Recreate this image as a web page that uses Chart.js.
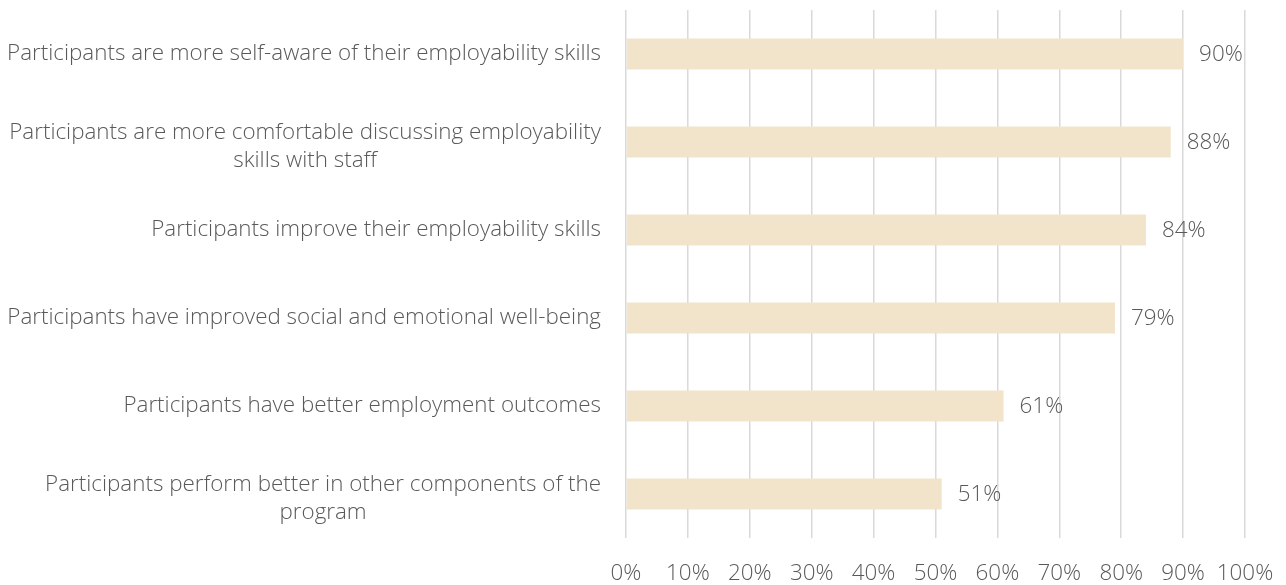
<!DOCTYPE html>
<html>
<head>
<meta charset="utf-8">
<script src="https://cdn.jsdelivr.net/npm/chart.js@4/dist/chart.umd.min.js"></script>
<style>
  html, body { margin: 0; padding: 0; background: #fff; }
  #wrap { width: 1286px; height: 585px; position: relative; }
</style>
</head>
<body>
<div id="wrap"><canvas id="chart"></canvas></div>
<script>
// statements, top to bottom
const categories = [
    ['Participants are more self-aware of their employability skills'],
    ['Participants are more comfortable discussing employability', 'skills with staff'],
    ['Participants improve their employability skills'],
    ['Participants have improved social and emotional well-being'],
    ['Participants have better employment outcomes'],
    ['Participants perform better in other components of the', 'program']
];
const shares = [90, 88, 84, 79, 61, 51]; // percent of respondents
const tickSteps = [0, 10, 20, 30, 40, 50, 60, 70, 80, 90, 100];

const textColor = '#595959';
const fontFamily = '"Open Sans", "Segoe UI", sans-serif';
const fontSize = 22.4;
const fontWeight = 300;

// category labels: each wrapped label is centred on its own widest line,
// and the block is right-aligned against the axis
const categoryLabels = {
    id: 'categoryLabels',
    afterDraw(chart) {
        const ctx = chart.ctx;
        const yScale = chart.scales.y;
        const lineHeight = 28;
        ctx.save();
        ctx.font = `${fontWeight} ${fontSize}px ${fontFamily}`;
        ctx.fillStyle = textColor;
        ctx.textAlign = 'center';
        ctx.textBaseline = 'middle';
        chart.data.labels.forEach((lines, i) => {
            const widest = Math.max(...lines.map(l => ctx.measureText(l).width));
            const cx = yScale.right - 25 - widest / 2;
            const cy = yScale.getPixelForValue(i);
            const top = cy - (lines.length - 1) * lineHeight / 2 + (lines.length > 1 ? 5 : 0);
            lines.forEach((l, j) => ctx.fillText(l, cx, top + j * lineHeight));
        });
        ctx.restore();
    }
};

// value labels just past the end of each bar
const valueLabels = {
    id: 'valueLabels',
    afterDatasetsDraw(chart) {
        const ctx = chart.ctx;
        const meta = chart.getDatasetMeta(0);
        ctx.save();
        ctx.font = `${fontWeight} ${fontSize}px ${fontFamily}`;
        ctx.fillStyle = textColor;
        ctx.textAlign = 'left';
        ctx.textBaseline = 'middle';
        meta.data.forEach((bar, i) => {
            ctx.fillText(shares[i] + '%', bar.x + 16, bar.y + 1);
        });
        ctx.restore();
    }
};

function initChart() {
    const ctx = document.getElementById('chart').getContext('2d');

    const data = {
        labels: categories,
        datasets: [{
            data: shares,
            backgroundColor: '#F2E4CA',
            borderWidth: 0,
            barPercentage: 0.35,
            categoryPercentage: 1
        }]
    };

    const config = {
        type: 'bar',
        data: data,
        options: {
            indexAxis: 'y',
            responsive: true,
            maintainAspectRatio: false,
            animation: false,
            layout: {
                padding: { top: 10, right: 41, left: 0, bottom: 0 }
            },
            plugins: {
                legend: { display: false },
                tooltip: { enabled: false },
                title: { display: false }
            },
            scales: {
                x: {
                    min: 0,
                    max: 100,
                    afterBuildTicks: (scale) => {
                        scale.ticks = tickSteps.map(v => ({ value: v }));
                    },
                    ticks: {
                        callback: (v) => v + '%',
                        color: textColor,
                        padding: 22,
                        maxRotation: 0,
                        font: { family: fontFamily, size: fontSize, weight: fontWeight }
                    },
                    grid: {
                        color: '#D9D9D9',
                        lineWidth: 1.5,
                        drawTicks: false
                    },
                    border: { display: false },
                    afterFit: (scale) => {
                        scale.height = 47;
                        // the end labels may hang past the plot; don't shrink it for them
                        scale.paddingLeft = 0;
                        scale.paddingRight = 0;
                    }
                },
                y: {
                    ticks: { display: false },
                    grid: { display: false },
                    border: { display: false },
                    afterFit: (scale) => { scale.width = 626; }
                }
            }
        },
        plugins: [categoryLabels, valueLabels]
    };

    new Chart(ctx, config);
}

document.addEventListener('DOMContentLoaded', function() {
    initChart();
});
</script>
</body>
</html>
